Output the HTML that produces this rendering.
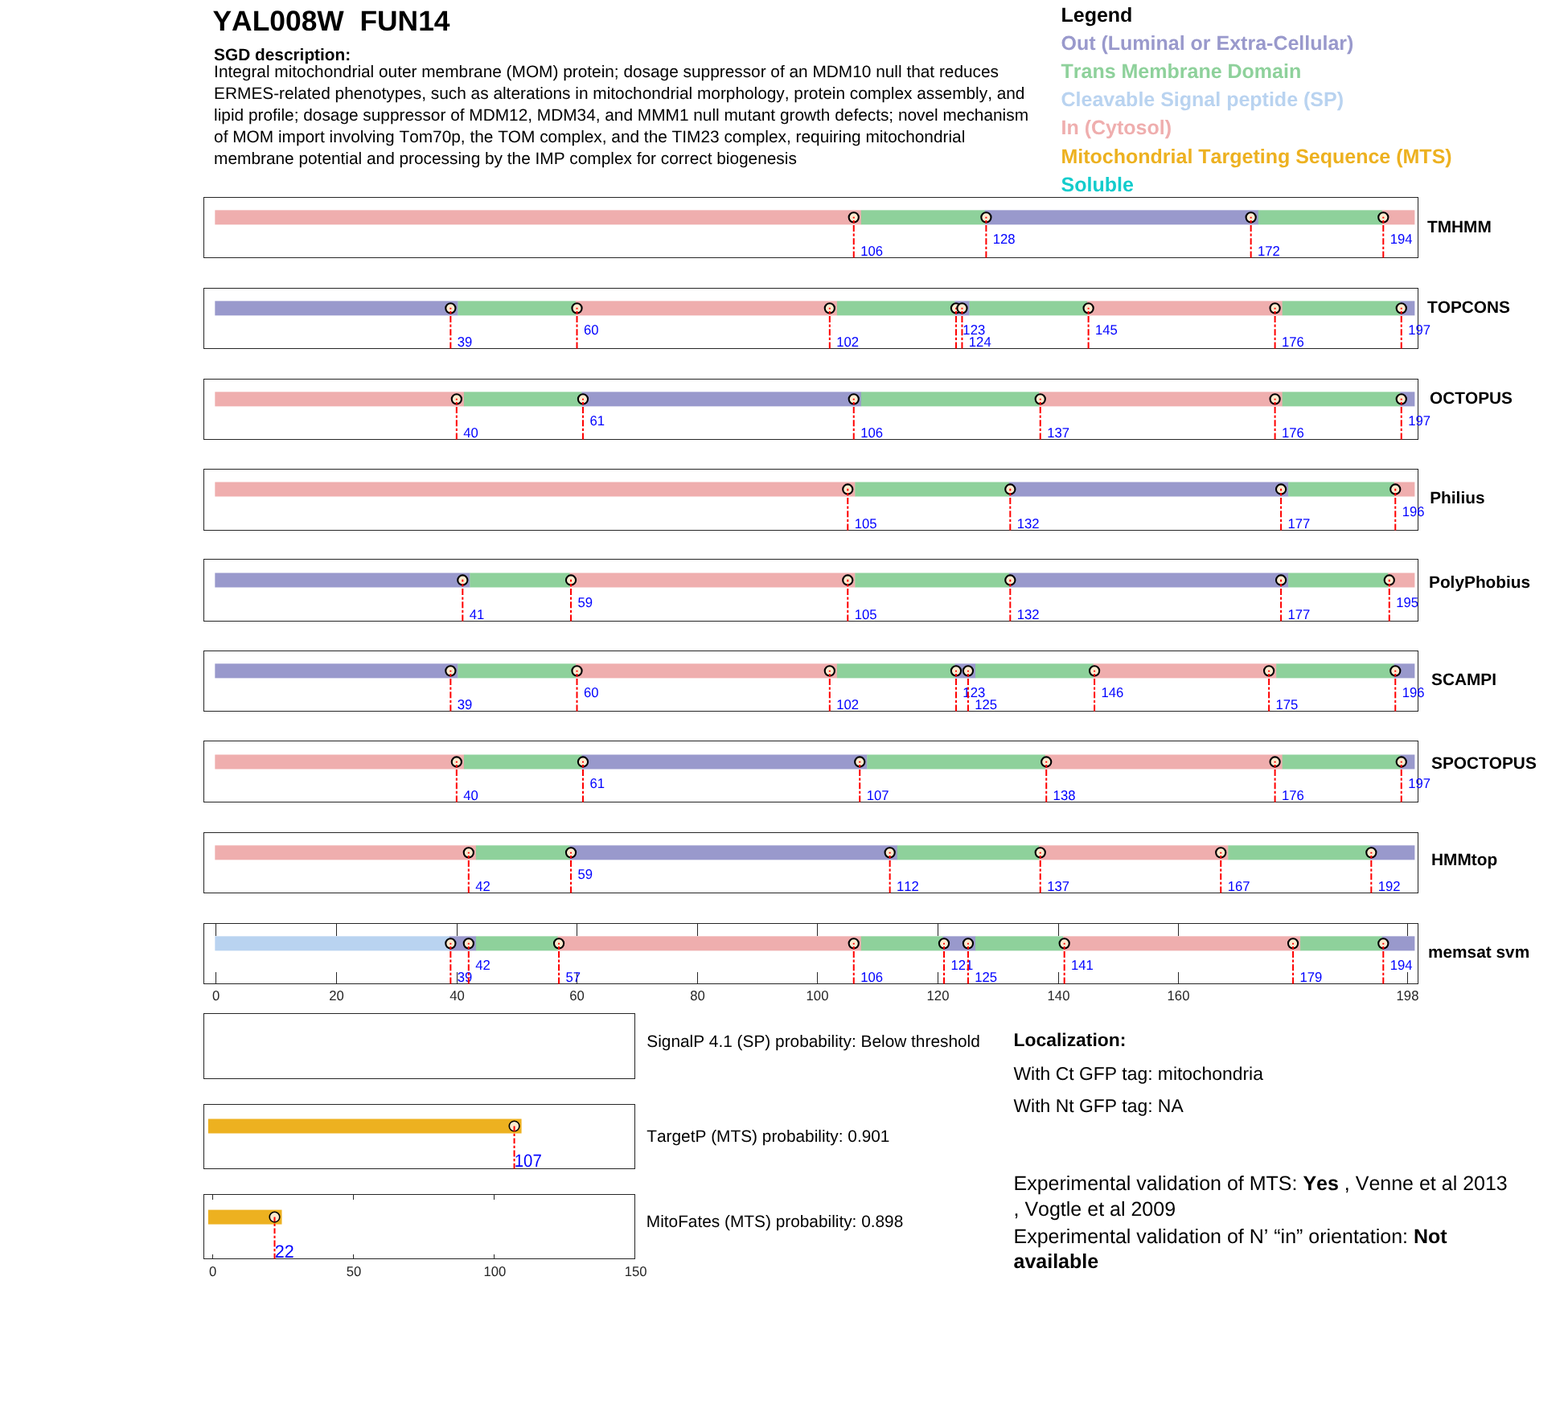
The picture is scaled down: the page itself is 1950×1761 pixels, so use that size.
<!DOCTYPE html>
<html lang="en"><head><meta charset="utf-8"><title>YAL008W FUN14</title>
<style>
html,body{margin:0;padding:0;background:#fff}
body{width:1950px;height:1761px;overflow:hidden}
svg{display:block}
text{font-family:"Liberation Sans",Arial,Helvetica,sans-serif;font-kerning:none;text-rendering:geometricPrecision}
.b{font-weight:bold}
.ax{fill:none;stroke:#262626;stroke-width:1;shape-rendering:crispEdges}
.tk{stroke:#262626;stroke-width:1;shape-rendering:crispEdges}
.tl{fill:#262626;font-size:16.67px;text-anchor:middle}
.lb{fill:#0000FF;font-size:16.67px}
.lb2{fill:#0000FF;font-size:22.2px}
.rl{stroke:#FF0000;stroke-width:2;fill:none}
.c{fill:#FCEBCF;stroke:#000;stroke-width:2.1}
.c2{fill:#FCEBCF;stroke:#000;stroke-width:1.6}
.nm{font-weight:bold;font-size:20.83px;fill:#000}
.d{font-size:20.83px;fill:#000}
.lg{font-weight:bold;font-size:25px}
.p{font-size:20.83px;fill:#000}
.loc{font-size:22.9px;fill:#000}
.ex{font-size:25px;fill:#000}
</style></head><body>
<svg width="1950" height="1761" viewBox="0 0 1950 1761">
<rect width="1950" height="1761" fill="#fff"/>
<text class="b" x="264.5" y="37.7" font-size="35.4px" xml:space="preserve" style="white-space:pre">YAL008W  FUN14</text>
<text class="b d" x="266.1" y="74.7">SGD description:</text>
<text class="d" x="266.1" y="95.8">Integral mitochondrial outer membrane (MOM) protein; dosage suppressor of an MDM10 null that reduces</text>
<text class="d" x="266.1" y="122.8">ERMES-related phenotypes, such as alterations in mitochondrial morphology, protein complex assembly, and</text>
<text class="d" x="266.1" y="149.9">lipid profile; dosage suppressor of MDM12, MDM34, and MMM1 null mutant growth defects; novel mechanism</text>
<text class="d" x="266.1" y="176.9">of MOM import involving Tom70p, the TOM complex, and the TIM23 complex, requiring mitochondrial</text>
<text class="d" x="266.1" y="204.0">membrane potential and processing by the IMP complex for correct biogenesis</text>
<text class="lg" x="1319.5" y="26.8" fill="#000">Legend</text>
<text class="lg" x="1319.5" y="61.5" fill="#9999CC">Out (Luminal or Extra-Cellular)</text>
<text class="lg" x="1319.5" y="96.8" fill="#8ED19B">Trans Membrane Domain</text>
<text class="lg" x="1319.5" y="132.1" fill="#B9D3F0">Cleavable Signal peptide (SP)</text>
<text class="lg" x="1319.5" y="167.4" fill="#EFAEAE">In (Cytosol)</text>
<text class="lg" x="1319.5" y="202.6" fill="#EDB120">Mitochondrial Targeting Sequence (MTS)</text>
<text class="lg" x="1319.5" y="237.8" fill="#13CCCC">Soluble</text>
<g>
<rect x="267.33" y="261.35" width="803.77" height="18" fill="#EFAEAE"/>
<rect x="1070.80" y="261.35" width="154.42" height="18" fill="#8ED19B"/>
<rect x="1224.92" y="261.35" width="340.09" height="18" fill="#9999CC"/>
<rect x="1564.71" y="261.35" width="154.42" height="18" fill="#8ED19B"/>
<rect x="1718.83" y="261.35" width="40.55" height="18" fill="#EFAEAE"/>
<rect class="ax" x="253.5" y="245.5" width="1510" height="75.0"/>
<circle class="c" cx="1061.75" cy="270.35" r="6.1"/>
<path class="rl" d="M1061.75 320.50V269.65" stroke-dasharray="8 2.5 3.3 2.5"/>
<text class="lb" transform="translate(1070.15,317.90) scale(1,1.03)">106</text>
<circle class="c" cx="1226.39" cy="270.35" r="6.1"/>
<path class="rl" d="M1226.39 320.50V269.65" stroke-dasharray="8 2.5 3.3 2.5"/>
<text class="lb" transform="translate(1234.79,302.90) scale(1,1.03)">128</text>
<circle class="c" cx="1555.66" cy="270.35" r="6.1"/>
<path class="rl" d="M1555.66 320.50V269.65" stroke-dasharray="8 2.5 3.3 2.5"/>
<text class="lb" transform="translate(1564.06,317.90) scale(1,1.03)">172</text>
<circle class="c" cx="1720.30" cy="270.35" r="6.1"/>
<path class="rl" d="M1720.30 320.50V269.65" stroke-dasharray="8 2.5 3.3 2.5"/>
<text class="lb" transform="translate(1728.70,302.90) scale(1,1.03)">194</text>
<text class="nm" x="1775.0" y="289.3">TMHMM</text>
</g>
<g>
<rect x="267.33" y="374.35" width="302.37" height="18" fill="#9999CC"/>
<rect x="569.41" y="374.35" width="146.94" height="18" fill="#8ED19B"/>
<rect x="716.04" y="374.35" width="325.12" height="18" fill="#EFAEAE"/>
<rect x="1040.87" y="374.35" width="146.94" height="18" fill="#8ED19B"/>
<rect x="1187.50" y="374.35" width="18.30" height="18" fill="#9999CC"/>
<rect x="1205.50" y="374.35" width="146.94" height="18" fill="#8ED19B"/>
<rect x="1352.14" y="374.35" width="242.80" height="18" fill="#EFAEAE"/>
<rect x="1594.65" y="374.35" width="146.94" height="18" fill="#8ED19B"/>
<rect x="1741.28" y="374.35" width="18.10" height="18" fill="#9999CC"/>
<rect class="ax" x="253.5" y="358.5" width="1510" height="75.0"/>
<circle class="c" cx="560.36" cy="383.35" r="6.1"/>
<path class="rl" d="M560.36 433.50V382.65" stroke-dasharray="8 2.5 3.3 2.5"/>
<text class="lb" transform="translate(568.76,430.90) scale(1,1.03)">39</text>
<circle class="c" cx="717.51" cy="383.35" r="6.1"/>
<path class="rl" d="M717.51 433.50V382.65" stroke-dasharray="8 2.5 3.3 2.5"/>
<text class="lb" transform="translate(725.91,415.90) scale(1,1.03)">60</text>
<circle class="c" cx="1031.82" cy="383.35" r="6.1"/>
<path class="rl" d="M1031.82 433.50V382.65" stroke-dasharray="8 2.5 3.3 2.5"/>
<text class="lb" transform="translate(1040.22,430.90) scale(1,1.03)">102</text>
<circle class="c" cx="1188.97" cy="383.35" r="6.1"/>
<path class="rl" d="M1188.97 433.50V382.65" stroke-dasharray="8 2.5 3.3 2.5"/>
<text class="lb" transform="translate(1197.37,415.90) scale(1,1.03)">123</text>
<circle class="c" cx="1196.45" cy="383.35" r="6.1"/>
<path class="rl" d="M1196.45 433.50V382.65" stroke-dasharray="8 2.5 3.3 2.5"/>
<text class="lb" transform="translate(1204.85,430.90) scale(1,1.03)">124</text>
<circle class="c" cx="1353.61" cy="383.35" r="6.1"/>
<path class="rl" d="M1353.61 433.50V382.65" stroke-dasharray="8 2.5 3.3 2.5"/>
<text class="lb" transform="translate(1362.01,415.90) scale(1,1.03)">145</text>
<circle class="c" cx="1585.60" cy="383.35" r="6.1"/>
<path class="rl" d="M1585.60 433.50V382.65" stroke-dasharray="8 2.5 3.3 2.5"/>
<text class="lb" transform="translate(1594.00,430.90) scale(1,1.03)">176</text>
<circle class="c" cx="1742.75" cy="383.35" r="6.1"/>
<path class="rl" d="M1742.75 433.50V382.65" stroke-dasharray="8 2.5 3.3 2.5"/>
<text class="lb" transform="translate(1751.15,415.90) scale(1,1.03)">197</text>
<text class="nm" x="1775.0" y="389.3">TOPCONS</text>
</g>
<g>
<rect x="267.33" y="487.35" width="309.86" height="18" fill="#EFAEAE"/>
<rect x="576.89" y="487.35" width="146.94" height="18" fill="#8ED19B"/>
<rect x="723.53" y="487.35" width="347.57" height="18" fill="#9999CC"/>
<rect x="1070.80" y="487.35" width="221.77" height="18" fill="#8ED19B"/>
<rect x="1292.27" y="487.35" width="302.67" height="18" fill="#EFAEAE"/>
<rect x="1594.65" y="487.35" width="146.94" height="18" fill="#8ED19B"/>
<rect x="1741.28" y="487.35" width="18.10" height="18" fill="#9999CC"/>
<rect class="ax" x="253.5" y="471.5" width="1510" height="75.0"/>
<circle class="c" cx="567.84" cy="496.35" r="6.1"/>
<path class="rl" d="M567.84 546.50V495.65" stroke-dasharray="8 2.5 3.3 2.5"/>
<text class="lb" transform="translate(576.24,543.90) scale(1,1.03)">40</text>
<circle class="c" cx="724.99" cy="496.35" r="6.1"/>
<path class="rl" d="M724.99 546.50V495.65" stroke-dasharray="8 2.5 3.3 2.5"/>
<text class="lb" transform="translate(733.39,528.90) scale(1,1.03)">61</text>
<circle class="c" cx="1061.75" cy="496.35" r="6.1"/>
<path class="rl" d="M1061.75 546.50V495.65" stroke-dasharray="8 2.5 3.3 2.5"/>
<text class="lb" transform="translate(1070.15,543.90) scale(1,1.03)">106</text>
<circle class="c" cx="1293.74" cy="496.35" r="6.1"/>
<path class="rl" d="M1293.74 546.50V495.65" stroke-dasharray="8 2.5 3.3 2.5"/>
<text class="lb" transform="translate(1302.14,543.90) scale(1,1.03)">137</text>
<circle class="c" cx="1585.60" cy="496.35" r="6.1"/>
<path class="rl" d="M1585.60 546.50V495.65" stroke-dasharray="8 2.5 3.3 2.5"/>
<text class="lb" transform="translate(1594.00,543.90) scale(1,1.03)">176</text>
<circle class="c" cx="1742.75" cy="496.35" r="6.1"/>
<path class="rl" d="M1742.75 546.50V495.65" stroke-dasharray="8 2.5 3.3 2.5"/>
<text class="lb" transform="translate(1751.15,528.90) scale(1,1.03)">197</text>
<text class="nm" x="1778.0" y="502.0">OCTOPUS</text>
</g>
<g>
<rect x="267.33" y="599.50" width="796.28" height="18" fill="#EFAEAE"/>
<rect x="1063.32" y="599.50" width="191.84" height="18" fill="#8ED19B"/>
<rect x="1254.86" y="599.50" width="347.57" height="18" fill="#9999CC"/>
<rect x="1602.13" y="599.50" width="131.97" height="18" fill="#8ED19B"/>
<rect x="1733.80" y="599.50" width="25.58" height="18" fill="#EFAEAE"/>
<rect class="ax" x="253.5" y="583.5" width="1510" height="76.0"/>
<circle class="c" cx="1054.27" cy="608.50" r="6.1"/>
<path class="rl" d="M1054.27 659.50V607.80" stroke-dasharray="8 2.5 3.3 2.5"/>
<text class="lb" transform="translate(1062.67,656.90) scale(1,1.03)">105</text>
<circle class="c" cx="1256.32" cy="608.50" r="6.1"/>
<path class="rl" d="M1256.32 659.50V607.80" stroke-dasharray="8 2.5 3.3 2.5"/>
<text class="lb" transform="translate(1264.72,656.90) scale(1,1.03)">132</text>
<circle class="c" cx="1593.08" cy="608.50" r="6.1"/>
<path class="rl" d="M1593.08 659.50V607.80" stroke-dasharray="8 2.5 3.3 2.5"/>
<text class="lb" transform="translate(1601.48,656.90) scale(1,1.03)">177</text>
<circle class="c" cx="1735.27" cy="608.50" r="6.1"/>
<path class="rl" d="M1735.27 659.50V607.80" stroke-dasharray="8 2.5 3.3 2.5"/>
<text class="lb" transform="translate(1743.67,641.90) scale(1,1.03)">196</text>
<text class="nm" x="1778.2" y="626.3">Philius</text>
</g>
<g>
<rect x="267.33" y="712.50" width="317.34" height="18" fill="#9999CC"/>
<rect x="584.37" y="712.50" width="124.49" height="18" fill="#8ED19B"/>
<rect x="708.56" y="712.50" width="355.06" height="18" fill="#EFAEAE"/>
<rect x="1063.32" y="712.50" width="191.84" height="18" fill="#8ED19B"/>
<rect x="1254.86" y="712.50" width="347.57" height="18" fill="#9999CC"/>
<rect x="1602.13" y="712.50" width="124.49" height="18" fill="#8ED19B"/>
<rect x="1726.32" y="712.50" width="33.07" height="18" fill="#EFAEAE"/>
<rect class="ax" x="253.5" y="695.5" width="1510" height="77.0"/>
<circle class="c" cx="575.32" cy="721.50" r="6.1"/>
<path class="rl" d="M575.32 772.50V720.80" stroke-dasharray="8 2.5 3.3 2.5"/>
<text class="lb" transform="translate(583.72,769.90) scale(1,1.03)">41</text>
<circle class="c" cx="710.03" cy="721.50" r="6.1"/>
<path class="rl" d="M710.03 772.50V720.80" stroke-dasharray="8 2.5 3.3 2.5"/>
<text class="lb" transform="translate(718.43,754.90) scale(1,1.03)">59</text>
<circle class="c" cx="1054.27" cy="721.50" r="6.1"/>
<path class="rl" d="M1054.27 772.50V720.80" stroke-dasharray="8 2.5 3.3 2.5"/>
<text class="lb" transform="translate(1062.67,769.90) scale(1,1.03)">105</text>
<circle class="c" cx="1256.32" cy="721.50" r="6.1"/>
<path class="rl" d="M1256.32 772.50V720.80" stroke-dasharray="8 2.5 3.3 2.5"/>
<text class="lb" transform="translate(1264.72,769.90) scale(1,1.03)">132</text>
<circle class="c" cx="1593.08" cy="721.50" r="6.1"/>
<path class="rl" d="M1593.08 772.50V720.80" stroke-dasharray="8 2.5 3.3 2.5"/>
<text class="lb" transform="translate(1601.48,769.90) scale(1,1.03)">177</text>
<circle class="c" cx="1727.78" cy="721.50" r="6.1"/>
<path class="rl" d="M1727.78 772.50V720.80" stroke-dasharray="8 2.5 3.3 2.5"/>
<text class="lb" transform="translate(1736.18,754.90) scale(1,1.03)">195</text>
<text class="nm" x="1777.0" y="731.3">PolyPhobius</text>
</g>
<g>
<rect x="267.33" y="825.35" width="302.37" height="18" fill="#9999CC"/>
<rect x="569.41" y="825.35" width="146.94" height="18" fill="#8ED19B"/>
<rect x="716.04" y="825.35" width="325.12" height="18" fill="#EFAEAE"/>
<rect x="1040.87" y="825.35" width="146.94" height="18" fill="#8ED19B"/>
<rect x="1187.50" y="825.35" width="25.78" height="18" fill="#9999CC"/>
<rect x="1212.99" y="825.35" width="146.94" height="18" fill="#8ED19B"/>
<rect x="1359.62" y="825.35" width="227.84" height="18" fill="#EFAEAE"/>
<rect x="1587.16" y="825.35" width="146.94" height="18" fill="#8ED19B"/>
<rect x="1733.80" y="825.35" width="25.58" height="18" fill="#9999CC"/>
<rect class="ax" x="253.5" y="809.5" width="1510" height="75.0"/>
<circle class="c" cx="560.36" cy="834.35" r="6.1"/>
<path class="rl" d="M560.36 884.50V833.65" stroke-dasharray="8 2.5 3.3 2.5"/>
<text class="lb" transform="translate(568.76,881.90) scale(1,1.03)">39</text>
<circle class="c" cx="717.51" cy="834.35" r="6.1"/>
<path class="rl" d="M717.51 884.50V833.65" stroke-dasharray="8 2.5 3.3 2.5"/>
<text class="lb" transform="translate(725.91,866.90) scale(1,1.03)">60</text>
<circle class="c" cx="1031.82" cy="834.35" r="6.1"/>
<path class="rl" d="M1031.82 884.50V833.65" stroke-dasharray="8 2.5 3.3 2.5"/>
<text class="lb" transform="translate(1040.22,881.90) scale(1,1.03)">102</text>
<circle class="c" cx="1188.97" cy="834.35" r="6.1"/>
<path class="rl" d="M1188.97 884.50V833.65" stroke-dasharray="8 2.5 3.3 2.5"/>
<text class="lb" transform="translate(1197.37,866.90) scale(1,1.03)">123</text>
<circle class="c" cx="1203.94" cy="834.35" r="6.1"/>
<path class="rl" d="M1203.94 884.50V833.65" stroke-dasharray="8 2.5 3.3 2.5"/>
<text class="lb" transform="translate(1212.34,881.90) scale(1,1.03)">125</text>
<circle class="c" cx="1361.09" cy="834.35" r="6.1"/>
<path class="rl" d="M1361.09 884.50V833.65" stroke-dasharray="8 2.5 3.3 2.5"/>
<text class="lb" transform="translate(1369.49,866.90) scale(1,1.03)">146</text>
<circle class="c" cx="1578.11" cy="834.35" r="6.1"/>
<path class="rl" d="M1578.11 884.50V833.65" stroke-dasharray="8 2.5 3.3 2.5"/>
<text class="lb" transform="translate(1586.51,881.90) scale(1,1.03)">175</text>
<circle class="c" cx="1735.27" cy="834.35" r="6.1"/>
<path class="rl" d="M1735.27 884.50V833.65" stroke-dasharray="8 2.5 3.3 2.5"/>
<text class="lb" transform="translate(1743.67,866.90) scale(1,1.03)">196</text>
<text class="nm" x="1780.0" y="852.0">SCAMPI</text>
</g>
<g>
<rect x="267.33" y="938.50" width="309.86" height="18" fill="#EFAEAE"/>
<rect x="576.89" y="938.50" width="146.94" height="18" fill="#8ED19B"/>
<rect x="723.53" y="938.50" width="355.06" height="18" fill="#9999CC"/>
<rect x="1078.28" y="938.50" width="221.77" height="18" fill="#8ED19B"/>
<rect x="1299.76" y="938.50" width="295.19" height="18" fill="#EFAEAE"/>
<rect x="1594.65" y="938.50" width="146.94" height="18" fill="#8ED19B"/>
<rect x="1741.28" y="938.50" width="18.10" height="18" fill="#9999CC"/>
<rect class="ax" x="253.5" y="921.5" width="1510" height="76.0"/>
<circle class="c" cx="567.84" cy="947.50" r="6.1"/>
<path class="rl" d="M567.84 997.50V946.80" stroke-dasharray="8 2.5 3.3 2.5"/>
<text class="lb" transform="translate(576.24,994.90) scale(1,1.03)">40</text>
<circle class="c" cx="724.99" cy="947.50" r="6.1"/>
<path class="rl" d="M724.99 997.50V946.80" stroke-dasharray="8 2.5 3.3 2.5"/>
<text class="lb" transform="translate(733.39,979.90) scale(1,1.03)">61</text>
<circle class="c" cx="1069.23" cy="947.50" r="6.1"/>
<path class="rl" d="M1069.23 997.50V946.80" stroke-dasharray="8 2.5 3.3 2.5"/>
<text class="lb" transform="translate(1077.63,994.90) scale(1,1.03)">107</text>
<circle class="c" cx="1301.22" cy="947.50" r="6.1"/>
<path class="rl" d="M1301.22 997.50V946.80" stroke-dasharray="8 2.5 3.3 2.5"/>
<text class="lb" transform="translate(1309.62,994.90) scale(1,1.03)">138</text>
<circle class="c" cx="1585.60" cy="947.50" r="6.1"/>
<path class="rl" d="M1585.60 997.50V946.80" stroke-dasharray="8 2.5 3.3 2.5"/>
<text class="lb" transform="translate(1594.00,994.90) scale(1,1.03)">176</text>
<circle class="c" cx="1742.75" cy="947.50" r="6.1"/>
<path class="rl" d="M1742.75 997.50V946.80" stroke-dasharray="8 2.5 3.3 2.5"/>
<text class="lb" transform="translate(1751.15,979.90) scale(1,1.03)">197</text>
<text class="nm" x="1780.0" y="955.8">SPOCTOPUS</text>
</g>
<g>
<rect x="267.33" y="1051.35" width="324.82" height="18" fill="#EFAEAE"/>
<rect x="591.86" y="1051.35" width="117.00" height="18" fill="#8ED19B"/>
<rect x="708.56" y="1051.35" width="407.44" height="18" fill="#9999CC"/>
<rect x="1115.70" y="1051.35" width="176.87" height="18" fill="#8ED19B"/>
<rect x="1292.27" y="1051.35" width="235.32" height="18" fill="#EFAEAE"/>
<rect x="1527.29" y="1051.35" width="176.87" height="18" fill="#8ED19B"/>
<rect x="1703.87" y="1051.35" width="55.52" height="18" fill="#9999CC"/>
<rect class="ax" x="253.5" y="1035.5" width="1510" height="75.0"/>
<circle class="c" cx="582.81" cy="1060.35" r="6.1"/>
<path class="rl" d="M582.81 1110.50V1059.65" stroke-dasharray="8 2.5 3.3 2.5"/>
<text class="lb" transform="translate(591.21,1107.90) scale(1,1.03)">42</text>
<circle class="c" cx="710.03" cy="1060.35" r="6.1"/>
<path class="rl" d="M710.03 1110.50V1059.65" stroke-dasharray="8 2.5 3.3 2.5"/>
<text class="lb" transform="translate(718.43,1092.90) scale(1,1.03)">59</text>
<circle class="c" cx="1106.65" cy="1060.35" r="6.1"/>
<path class="rl" d="M1106.65 1110.50V1059.65" stroke-dasharray="8 2.5 3.3 2.5"/>
<text class="lb" transform="translate(1115.05,1107.90) scale(1,1.03)">112</text>
<circle class="c" cx="1293.74" cy="1060.35" r="6.1"/>
<path class="rl" d="M1293.74 1110.50V1059.65" stroke-dasharray="8 2.5 3.3 2.5"/>
<text class="lb" transform="translate(1302.14,1107.90) scale(1,1.03)">137</text>
<circle class="c" cx="1518.24" cy="1060.35" r="6.1"/>
<path class="rl" d="M1518.24 1110.50V1059.65" stroke-dasharray="8 2.5 3.3 2.5"/>
<text class="lb" transform="translate(1526.64,1107.90) scale(1,1.03)">167</text>
<circle class="c" cx="1705.33" cy="1060.35" r="6.1"/>
<path class="rl" d="M1705.33 1110.50V1059.65" stroke-dasharray="8 2.5 3.3 2.5"/>
<text class="lb" transform="translate(1713.73,1107.90) scale(1,1.03)">192</text>
<text class="nm" x="1780.0" y="1076.3">HMMtop</text>
</g>
<g>
<rect x="267.33" y="1164.35" width="291.86" height="18" fill="#B9D3F0"/>
<rect x="558.89" y="1164.35" width="33.27" height="18" fill="#9999CC"/>
<rect x="591.86" y="1164.35" width="102.04" height="18" fill="#8ED19B"/>
<rect x="693.59" y="1164.35" width="377.51" height="18" fill="#EFAEAE"/>
<rect x="1070.80" y="1164.35" width="102.04" height="18" fill="#8ED19B"/>
<rect x="1172.54" y="1164.35" width="40.75" height="18" fill="#9999CC"/>
<rect x="1212.99" y="1164.35" width="109.52" height="18" fill="#8ED19B"/>
<rect x="1322.21" y="1164.35" width="295.19" height="18" fill="#EFAEAE"/>
<rect x="1617.10" y="1164.35" width="102.04" height="18" fill="#8ED19B"/>
<rect x="1718.83" y="1164.35" width="40.55" height="18" fill="#9999CC"/>
<rect class="ax" x="253.5" y="1148.5" width="1510" height="75.0"/>
<path class="tk" d="M268.5 1148.5v15M268.5 1223.5v-15"/>
<text class="tl" transform="translate(268.5,1243.8) scale(1,1.03)">0</text>
<path class="tk" d="M418.5 1148.5v15M418.5 1223.5v-15"/>
<text class="tl" transform="translate(418.5,1243.8) scale(1,1.03)">20</text>
<path class="tk" d="M568.5 1148.5v15M568.5 1223.5v-15"/>
<text class="tl" transform="translate(568.5,1243.8) scale(1,1.03)">40</text>
<path class="tk" d="M717.5 1148.5v15M717.5 1223.5v-15"/>
<text class="tl" transform="translate(717.5,1243.8) scale(1,1.03)">60</text>
<path class="tk" d="M867.5 1148.5v15M867.5 1223.5v-15"/>
<text class="tl" transform="translate(867.5,1243.8) scale(1,1.03)">80</text>
<path class="tk" d="M1016.5 1148.5v15M1016.5 1223.5v-15"/>
<text class="tl" transform="translate(1016.5,1243.8) scale(1,1.03)">100</text>
<path class="tk" d="M1166.5 1148.5v15M1166.5 1223.5v-15"/>
<text class="tl" transform="translate(1166.5,1243.8) scale(1,1.03)">120</text>
<path class="tk" d="M1316.5 1148.5v15M1316.5 1223.5v-15"/>
<text class="tl" transform="translate(1316.5,1243.8) scale(1,1.03)">140</text>
<path class="tk" d="M1465.5 1148.5v15M1465.5 1223.5v-15"/>
<text class="tl" transform="translate(1465.5,1243.8) scale(1,1.03)">160</text>
<path class="tk" d="M1750.5 1148.5v15M1750.5 1223.5v-15"/>
<text class="tl" transform="translate(1750.5,1243.8) scale(1,1.03)">198</text>
<circle class="c" cx="560.36" cy="1173.35" r="6.1"/>
<path class="rl" d="M560.36 1223.50V1172.65" stroke-dasharray="8 2.5 3.3 2.5"/>
<text class="lb" transform="translate(568.76,1220.90) scale(1,1.03)">39</text>
<circle class="c" cx="582.81" cy="1173.35" r="6.1"/>
<path class="rl" d="M582.81 1223.50V1172.65" stroke-dasharray="8 2.5 3.3 2.5"/>
<text class="lb" transform="translate(591.21,1205.90) scale(1,1.03)">42</text>
<circle class="c" cx="695.06" cy="1173.35" r="6.1"/>
<path class="rl" d="M695.06 1223.50V1172.65" stroke-dasharray="8 2.5 3.3 2.5"/>
<text class="lb" transform="translate(703.46,1220.90) scale(1,1.03)">57</text>
<circle class="c" cx="1061.75" cy="1173.35" r="6.1"/>
<path class="rl" d="M1061.75 1223.50V1172.65" stroke-dasharray="8 2.5 3.3 2.5"/>
<text class="lb" transform="translate(1070.15,1220.90) scale(1,1.03)">106</text>
<circle class="c" cx="1174.00" cy="1173.35" r="6.1"/>
<path class="rl" d="M1174.00 1223.50V1172.65" stroke-dasharray="8 2.5 3.3 2.5"/>
<text class="lb" transform="translate(1182.40,1205.90) scale(1,1.03)">121</text>
<circle class="c" cx="1203.94" cy="1173.35" r="6.1"/>
<path class="rl" d="M1203.94 1223.50V1172.65" stroke-dasharray="8 2.5 3.3 2.5"/>
<text class="lb" transform="translate(1212.34,1220.90) scale(1,1.03)">125</text>
<circle class="c" cx="1323.67" cy="1173.35" r="6.1"/>
<path class="rl" d="M1323.67 1223.50V1172.65" stroke-dasharray="8 2.5 3.3 2.5"/>
<text class="lb" transform="translate(1332.07,1205.90) scale(1,1.03)">141</text>
<circle class="c" cx="1608.05" cy="1173.35" r="6.1"/>
<path class="rl" d="M1608.05 1223.50V1172.65" stroke-dasharray="8 2.5 3.3 2.5"/>
<text class="lb" transform="translate(1616.45,1220.90) scale(1,1.03)">179</text>
<circle class="c" cx="1720.30" cy="1173.35" r="6.1"/>
<path class="rl" d="M1720.30 1223.50V1172.65" stroke-dasharray="8 2.5 3.3 2.5"/>
<text class="lb" transform="translate(1728.70,1205.90) scale(1,1.03)">194</text>
<text class="nm" x="1776.0" y="1190.6">memsat svm</text>
</g>
<g>
<rect class="ax" x="253.5" y="1260.5" width="536" height="81.0"/>
</g>
<g>
<rect x="258.86" y="1391.50" width="389.71" height="18" fill="#EDB120"/>
<rect class="ax" x="253.5" y="1373.5" width="536" height="80.0"/>
<circle class="c2" cx="639.57" cy="1400.50" r="6.3"/>
<path class="rl" d="M639.57 1453.50V1400.50" stroke-dasharray="6.7 2.6 3.1 2.6 8 2.6 3.1 2.6"/>
<text class="lb2" transform="translate(639.77,1451.10) scale(0.920,1)">107</text>
</g>
<g>
<rect x="258.86" y="1504.60" width="91.64" height="18" fill="#EDB120"/>
<rect class="ax" x="253.5" y="1485.5" width="536" height="80.0"/>
<path class="tk" d="M264.5 1485.5v6M264.5 1565.5v-6"/>
<text class="tl" transform="translate(264.7,1587.3) scale(1,1.03)">0</text>
<path class="tk" d="M439.5 1485.5v6M439.5 1565.5v-6"/>
<text class="tl" transform="translate(440.0,1587.3) scale(1,1.03)">50</text>
<path class="tk" d="M614.5 1485.5v6M614.5 1565.5v-6"/>
<text class="tl" transform="translate(615.3,1587.3) scale(1,1.03)">100</text>
<text class="tl" transform="translate(790.7,1587.3) scale(1,1.03)">150</text>
<circle class="c2" cx="341.50" cy="1513.60" r="6.3"/>
<path class="rl" d="M341.50 1565.50V1513.60" stroke-dasharray="6.7 2.6 3.1 2.6 8 2.6 3.1 2.6"/>
<text class="lb2" transform="translate(341.70,1563.90) scale(0.970,1)">22</text>
</g>
<text class="p" x="804.3" y="1301.7">SignalP 4.1 (SP) probability: Below threshold</text>
<text class="p" x="804.3" y="1419.6">TargetP (MTS) probability: 0.901</text>
<text class="p" x="803.8" y="1525.6">MitoFates (MTS) probability: 0.898</text>
<text class="loc b" x="1260.5" y="1301.1">Localization:</text>
<text class="loc" x="1260.5" y="1342.8">With Ct GFP tag: mitochondria</text>
<text class="loc" x="1260.5" y="1382.7">With Nt GFP tag: NA</text>
<text class="ex" x="1260.5" y="1479.6" xml:space="preserve" style="white-space:pre">Experimental validation of MTS: <tspan class="b">Yes</tspan> , Venne et al 2013</text>
<text class="ex" x="1260.5" y="1511.8">, Vogtle et al 2009</text>
<text class="ex" x="1260.5" y="1545.6" xml:space="preserve" style="white-space:pre">Experimental validation of N’ “in” orientation: <tspan class="b">Not</tspan></text>
<text class="ex b" x="1260.5" y="1577.1">available</text>
</svg></body></html>
